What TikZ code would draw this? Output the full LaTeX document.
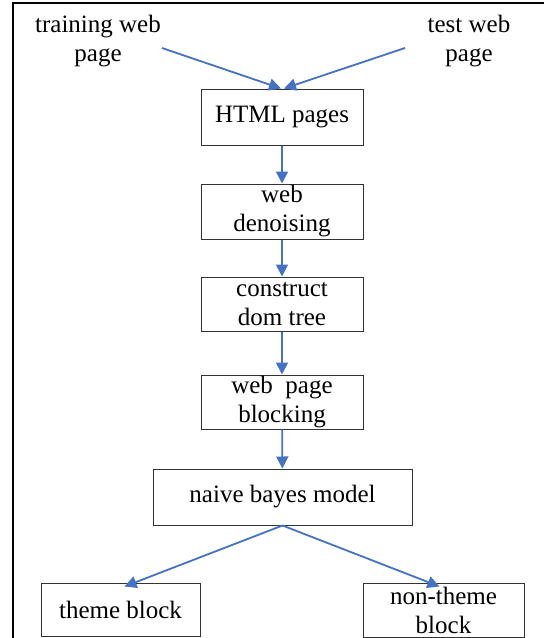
\documentclass[tikz,border=0pt]{standalone}
\usepackage{fontspec}
\setmainfont{Liberation Serif}
\newfontfamily\tnr{Liberation Serif}
\usetikzlibrary{arrows.meta}
\definecolor{arrowblue}{HTML}{4472C4}
\begin{document}
\begin{tikzpicture}[x=1pt,y=-1pt,
  every node/.style={font=\tnr\fontsize{25}{29}\selectfont, inner sep=0pt},
  procbox/.style={draw=black!80, line width=1pt, align=center, fill=white},
  lbl/.style={align=center},
  flow/.style={draw=arrowblue, line width=1.8pt, -{Triangle[length=12pt,width=12pt]}}
]
\useasboundingbox (0,0) rectangle (544,638);
\clip (0,0) rectangle (544,638);
\draw[line width=2.6pt] (13,660) -- (13,3) -- (560,3);

\node[lbl] (train) at (98,41) {training web\\page};
\node[lbl] (test) at (469,41) {test web\\page};

\node[procbox, minimum width=162pt, minimum height=56pt] (html) at (282,117) {HTML pages};
\node[procbox, minimum width=162pt, minimum height=55pt] (denoise) at (282,211.5) {web\\denoising};
\node[procbox, minimum width=162pt, minimum height=54pt] (dom) at (282,304) {construct\\dom tree};
\node[procbox, minimum width=162pt, minimum height=54pt] (block) at (282,402) {web\ \ page\\blocking};
\node[procbox, minimum width=259pt, minimum height=56pt] (bayes) at (282.5,497) {naive bayes model};
\node[procbox, minimum width=159pt, minimum height=53pt] (theme) at (120.5,609.5) {theme block};
\node[procbox, minimum width=161pt, minimum height=54pt] (nontheme) at (443.5,610) {non-theme\\block};

\coordinate (trainend) at (162,48);
\coordinate (testend) at (405,48);
\draw[flow] (trainend) -- ([xshift=-1pt]html.north);
\draw[flow] (testend) -- ([xshift=2pt]html.north);
\draw[flow] (html) -- (denoise);
\draw[flow] (denoise) -- (dom);
\draw[flow] (dom) -- (block);
\draw[flow] (block) -- (bayes);
\draw[flow] (bayes.south) -- ([xshift=4pt,yshift=-4pt]theme.north);
\draw[flow] (bayes.south) -- ([xshift=-4pt,yshift=-4pt]nontheme.north);
\end{tikzpicture}
\end{document}
